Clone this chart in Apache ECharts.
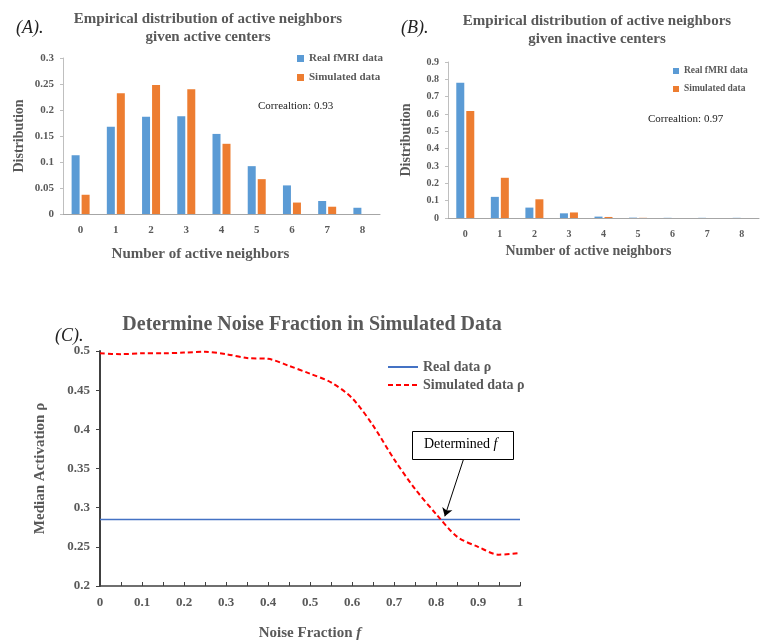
<!DOCTYPE html>
<html>
<head>
<meta charset="utf-8">
<script src="https://cdn.jsdelivr.net/npm/echarts@6/dist/echarts.min.js"></script>
<style>
  html, body { margin: 0; padding: 0; background: #fff; }
  #main { width: 760px; height: 642px; }
</style>
</head>
<body>
<div id="main"></div>
<script>
// data
var neighborCounts = ["0", "1", "2", "3", "4", "5", "6", "7", "8"];
var realActive = [0.113, 0.168, 0.187, 0.188, 0.154, 0.092, 0.055, 0.025, 0.012];
var simActive = [0.037, 0.232, 0.248, 0.240, 0.135, 0.067, 0.022, 0.014, 0];
var realInactive = [0.780, 0.122, 0.060, 0.027, 0.008, 0.002, 0.001, 0.001, 0.001];
var simInactive = [0.617, 0.232, 0.108, 0.032, 0.006, 0.001, 0, 0, 0];

var noiseFraction = [0, 0.05, 0.1, 0.15, 0.2, 0.25, 0.3, 0.35, 0.4, 0.45, 0.5,
  0.55, 0.6, 0.65, 0.7, 0.75, 0.8, 0.85, 0.9, 0.95, 1];
var simRho = [0.497, 0.496, 0.497, 0.497, 0.498, 0.499, 0.496, 0.491, 0.490, 0.481, 0.471,
  0.460, 0.440, 0.405, 0.362, 0.324, 0.292, 0.263, 0.250, 0.240, 0.242];
var realRho = 0.285;
// arrow of the "Determined f" note, in data units
var arrowFrom = [0.865, 0.361];
var arrowTo = [0.821, 0.289];

var serif = "Liberation Serif";
var gray = "#595959";
var blue = "#5b9bd5";
var orange = "#ed7d31";

function boldText(size) {
  return { fontFamily: serif, fontWeight: "bold", fontSize: size, color: gray };
}

var chart = echarts.init(document.getElementById("main"));

chart.setOption({
  backgroundColor: "#fff",
  animation: false,
  title: [
    { text: "(A).", left: 11, top: 14, textStyle: { fontFamily: serif, fontStyle: "italic", fontWeight: "normal", fontSize: 18, color: "#222" } },
    { text: "Empirical distribution of active neighbors\ngiven active centers", left: 203, top: 5, textAlign: "center",
      textStyle: Object.assign(boldText(15), { lineHeight: 18 }) },
    { text: "Correaltion: 0.93", left: 253, top: 96, textStyle: { fontFamily: serif, fontSize: 11, color: "#222", fontWeight: "normal" } },
    { text: "(B).", left: 396, top: 14, textStyle: { fontFamily: serif, fontStyle: "italic", fontWeight: "normal", fontSize: 18, color: "#222" } },
    { text: "Empirical distribution of active neighbors\ngiven inactive centers", left: 592, top: 7, textAlign: "center",
      textStyle: Object.assign(boldText(15), { lineHeight: 18 }) },
    { text: "Correaltion: 0.97", left: 643, top: 109, textStyle: { fontFamily: serif, fontSize: 11, color: "#222", fontWeight: "normal" } },
    { text: "(C).", left: 50, top: 322, textStyle: { fontFamily: serif, fontStyle: "italic", fontWeight: "normal", fontSize: 18, color: "#222" } },
    { text: "Determine Noise Fraction in Simulated Data", left: 307, top: 310, textAlign: "center",
      textStyle: boldText(20) }
  ],
  legend: [
    { orient: "vertical", left: 292, top: 48, itemWidth: 7, itemHeight: 7, itemGap: 8, icon: "rect",
      data: ["Real fMRI data", "Simulated data"], textStyle: boldText(11) },
    { orient: "vertical", left: 668, top: 61, itemWidth: 6, itemHeight: 6, itemGap: 8, icon: "rect",
      data: ["Real fMRI data B", "Simulated data B"],
      formatter: function (n) { return n.replace(" B", ""); },
      textStyle: boldText(9.5) },
    { orient: "vertical", left: 382, top: 355, itemWidth: 30, itemHeight: 10, itemGap: 4,
      itemStyle: { opacity: 0 },
      data: ["Real data ρ", "Simulated data ρ"], textStyle: boldText(14) }
  ],
  grid: [
    { left: 63, top: 58, width: 317, height: 156 },
    { left: 448, top: 62, width: 311, height: 156 },
    { left: 100, top: 351, width: 420, height: 236 }
  ],
  xAxis: [
    { gridIndex: 0, type: "category", data: neighborCounts,
      axisLine: { lineStyle: { color: "#a6a6a6" } }, axisTick: { show: false },
      axisLabel: Object.assign(boldText(11), { margin: 11 }),
      name: "Number of active neighbors", nameLocation: "middle", nameGap: 33,
      nameTextStyle: Object.assign(boldText(15), { padding: [0, 42, 0, 0] }) },
    { gridIndex: 1, type: "category", data: neighborCounts,
      axisLine: { lineStyle: { color: "#a6a6a6" } }, axisTick: { show: false },
      axisLabel: Object.assign(boldText(10), { margin: 11 }),
      name: "Number of active neighbors", nameLocation: "middle", nameGap: 26,
      nameTextStyle: Object.assign(boldText(14), { padding: [0, 30, 0, 0] }) },
    { gridIndex: 2, type: "value", min: 0, max: 1, interval: 0.05,
      splitLine: { show: false },
      axisLine: { lineStyle: { color: "#404040", width: 1.5 } },
      axisTick: { inside: true, length: 4, lineStyle: { color: "#404040" } },
      axisLabel: Object.assign(boldText(13), { margin: 10,
        formatter: function (v) { return Math.round(v * 100) % 10 === 0 ? String(+v.toFixed(1)) : ""; } }),
      name: "Noise Fraction {i|f}", nameLocation: "middle", nameGap: 40,
      nameTextStyle: Object.assign(boldText(15), { rich: { i: { fontFamily: serif, fontStyle: "italic", fontWeight: "bold", fontSize: 15, color: gray } } }) }
  ],
  yAxis: [
    { gridIndex: 0, type: "value", min: 0, max: 0.3, interval: 0.05,
      splitLine: { show: false },
      axisLine: { show: true, lineStyle: { color: "#bfbfbf" } },
      axisTick: { show: true, length: 3, lineStyle: { color: "#bfbfbf" } },
      axisLabel: Object.assign(boldText(11), { margin: 9 }),
      name: "Distribution", nameLocation: "middle", nameGap: 37, nameTextStyle: boldText(14) },
    { gridIndex: 1, type: "value", min: 0, max: 0.9, interval: 0.1,
      splitLine: { show: false },
      axisLine: { show: true, lineStyle: { color: "#bfbfbf" } },
      axisTick: { show: true, length: 3, lineStyle: { color: "#bfbfbf" } },
      axisLabel: Object.assign(boldText(10), { margin: 9 }),
      name: "Distribution", nameLocation: "middle", nameGap: 35, nameTextStyle: boldText(14) },
    { gridIndex: 2, type: "value", min: 0.2, max: 0.5, interval: 0.05,
      splitLine: { show: false },
      axisLine: { show: true, lineStyle: { color: "#404040", width: 2 } },
      axisTick: { show: true, length: 4, lineStyle: { color: "#404040" } },
      axisLabel: Object.assign(boldText(13), { margin: 10 }),
      name: "Median Activation ρ", nameLocation: "middle", nameGap: 52, nameTextStyle: boldText(15) }
  ],
  series: [
    { name: "Real fMRI data", type: "bar", xAxisIndex: 0, yAxisIndex: 0, data: realActive,
      barWidth: 8, barGap: "25%", itemStyle: { color: blue } },
    { name: "Simulated data", type: "bar", xAxisIndex: 0, yAxisIndex: 0, data: simActive,
      barWidth: 8, barGap: "25%", itemStyle: { color: orange } },
    { name: "Real fMRI data B", type: "bar", xAxisIndex: 1, yAxisIndex: 1, data: realInactive,
      barWidth: 8, barGap: "25%", itemStyle: { color: blue } },
    { name: "Simulated data B", type: "bar", xAxisIndex: 1, yAxisIndex: 1, data: simInactive,
      barWidth: 8, barGap: "25%", itemStyle: { color: orange } },
    { name: "Real data ρ", type: "line", xAxisIndex: 2, yAxisIndex: 2, symbol: "none",
      data: [[0, realRho], [1, realRho]],
      lineStyle: { color: "#4472c4", width: 1.5 }, itemStyle: { color: "#4472c4" } },
    { name: "Simulated data ρ", type: "line", xAxisIndex: 2, yAxisIndex: 2, symbol: "none", smooth: 0.3,
      data: noiseFraction.map(function (f, i) { return [f, simRho[i]]; }),
      lineStyle: { color: "#ff0000", width: 2, type: [5, 3] }, itemStyle: { color: "#ff0000" },
      markLine: {
        silent: true, symbol: ["none", "arrow"], symbolSize: 8,
        label: { show: false },
        lineStyle: { color: "#000", width: 1, type: "solid" },
        data: [[{ coord: arrowFrom }, { coord: arrowTo }]]
      } }
  ],
  graphic: [
    { type: "rect", left: 412, top: 431, z: 10,
      shape: { width: 101, height: 28 },
      style: { fill: "#fff", stroke: "#000", lineWidth: 1 } },
    { type: "text", left: 424, top: 437, z: 11,
      style: { text: "Determined {i|f}", fontFamily: serif, fontSize: 14, fill: "#000",
        rich: { i: { fontFamily: serif, fontStyle: "italic", fontSize: 14, fill: "#000" } } } }
  ]
});
</script>
</body>
</html>
